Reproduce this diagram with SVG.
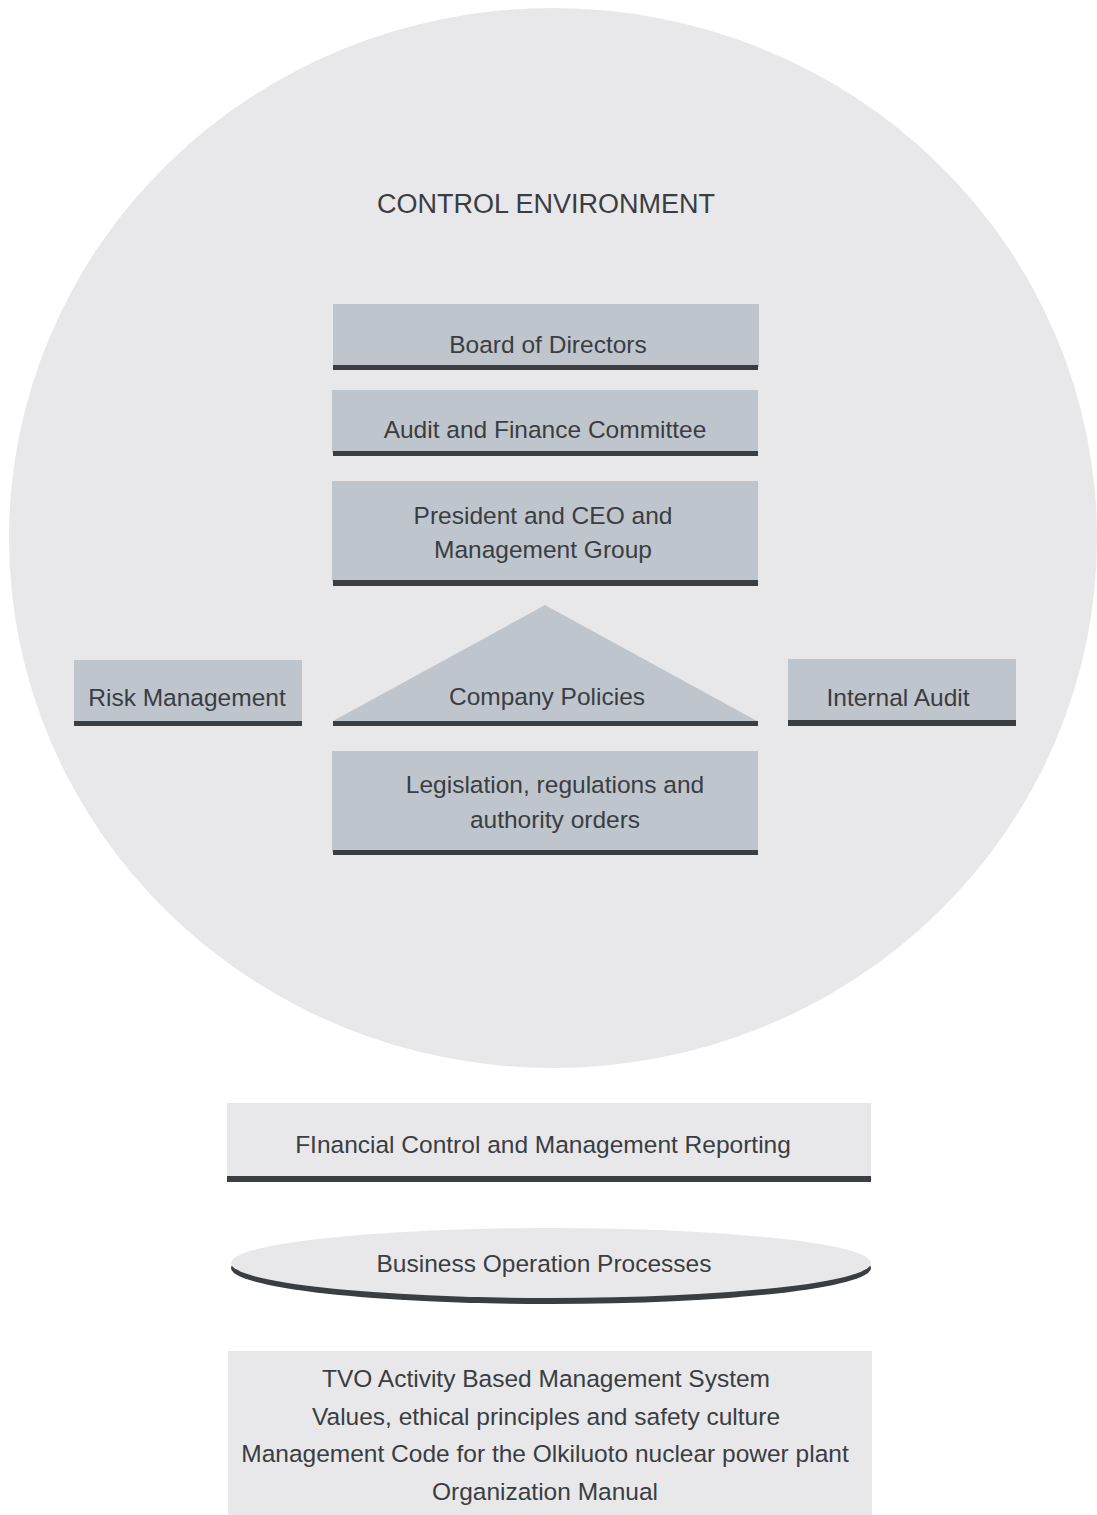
<svg xmlns="http://www.w3.org/2000/svg" width="1097" height="1515" viewBox="0 0 1097 1515">
<style>
.bg{fill:#e8e8ea}
.box{fill:#bfc5cc}
.bar{fill:#3a3d42}
.t{font-family:"Liberation Sans","DejaVu Sans",sans-serif;font-size:24.5px;fill:#3a3d42;text-anchor:middle}
.title{font-family:"Liberation Sans","DejaVu Sans",sans-serif;font-size:27px;fill:#3a3d42;text-anchor:middle}
</style>
<rect x="0" y="0" width="1097" height="1515" fill="#ffffff"/>
<g id="control-environment">
<ellipse class="bg" cx="553" cy="538" rx="544" ry="530"/>
<text class="title" x="546" y="213">CONTROL ENVIRONMENT</text>
</g>
<g id="board">
<rect class="box" x="333" y="304" width="426" height="63"/>
<rect class="bar" x="333" y="365" width="425" height="5"/>
<text class="t" x="548" y="353">Board of Directors</text>
</g>
<g id="audit-committee">
<rect class="box" x="332" y="390" width="426" height="63"/>
<rect class="bar" x="333" y="451" width="425" height="5"/>
<text class="t" x="545" y="438">Audit and Finance Committee</text>
</g>
<g id="president">
<rect class="box" x="332" y="481" width="426" height="101"/>
<rect class="bar" x="333" y="580" width="425" height="6"/>
<text class="t" x="543" y="524">President and CEO and</text>
<text class="t" x="543" y="558">Management Group</text>
</g>
<g id="company-policies">
<polygon class="box" points="333,721 545,605 757,721"/>
<rect class="bar" x="333" y="721" width="425" height="5"/>
<text class="t" x="547" y="705">Company Policies</text>
</g>
<g id="risk-management">
<rect class="box" x="74" y="660" width="228" height="63"/>
<rect class="bar" x="74" y="721" width="228" height="5"/>
<text class="t" x="187" y="706">Risk Management</text>
</g>
<g id="internal-audit">
<rect class="box" x="788" y="659" width="228" height="63"/>
<rect class="bar" x="788" y="720" width="228" height="6"/>
<text class="t" x="898" y="706">Internal Audit</text>
</g>
<g id="legislation">
<rect class="box" x="332" y="751" width="426" height="101"/>
<rect class="bar" x="333" y="850" width="425" height="5"/>
<text class="t" x="555" y="793">Legislation, regulations and</text>
<text class="t" x="555" y="828">authority orders</text>
</g>
<g id="financial-control">
<rect class="bg" x="227" y="1103" width="644" height="76"/>
<rect class="bar" x="227" y="1176" width="644" height="6"/>
<text class="t" x="543" y="1153">FInancial Control and Management Reporting</text>
</g>
<g id="business-processes">
<ellipse class="bar" cx="551" cy="1268" rx="320" ry="36"/>
<ellipse class="bg" cx="551" cy="1263" rx="320" ry="35"/>
<text class="t" x="544" y="1272">Business Operation Processes</text>
</g>
<g id="management-system">
<rect class="bg" x="228" y="1351" width="644" height="164"/>
<text class="t" x="546" y="1387">TVO Activity Based Management System</text>
<text class="t" x="546" y="1425">Values, ethical principles and safety culture</text>
<text class="t" x="545" y="1462">Management Code for the Olkiluoto nuclear power plant</text>
<text class="t" x="545" y="1500">Organization Manual</text>
</g>
<g id="connectors"></g>
</svg>
